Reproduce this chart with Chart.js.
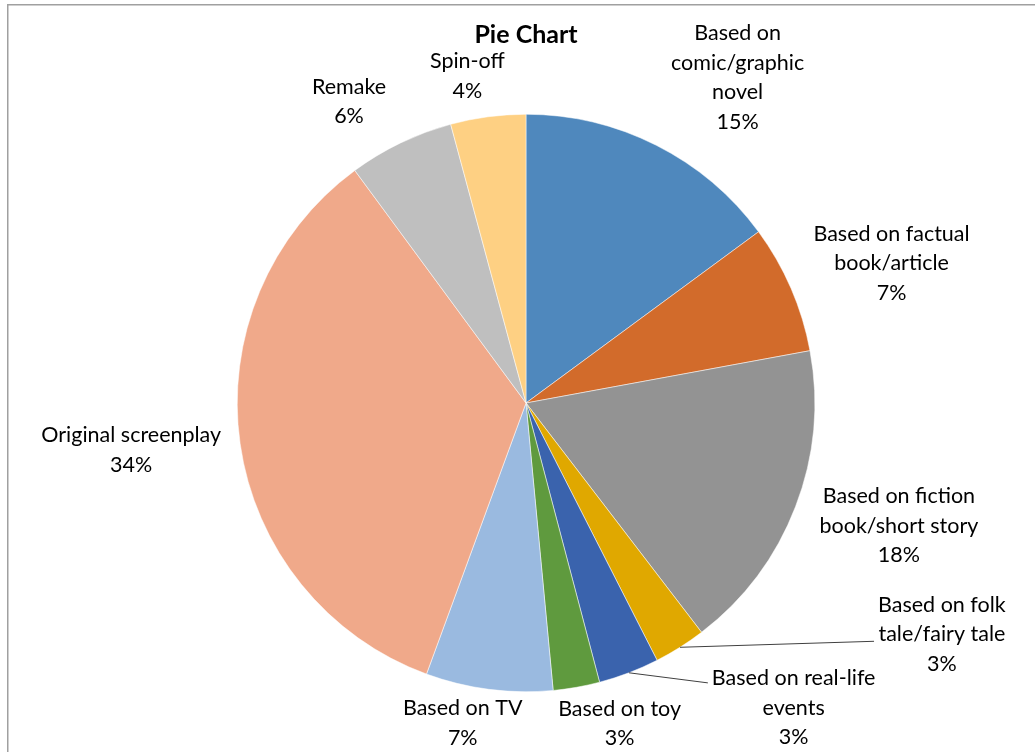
<!DOCTYPE html>
<html>
<head>
<meta charset="utf-8">
<title>Pie Chart</title>
<script src="https://cdn.jsdelivr.net/npm/chart.js"></script>
<style>
	html, body { margin: 0; padding: 0; background: #fff; }
	canvas { display: block; }
</style>
</head>
<body>
<canvas id="pieChart" width="1035" height="752"></canvas>
<script>
// slice labels, one entry per line as shown on the chart
const categories = [
	["Based on", "comic/graphic", "novel"],
	["Based on factual", "book/article"],
	["Based on fiction", "book/short story"],
	["Based on folk", "tale/fairy tale"],
	["Based on real-life", "events"],
	["Based on toy"],
	["Based on TV"],
	["Original screenplay"],
	["Remake"],
	["Spin-off"],
];

// share of films in each category
const shares = [14.9, 7.2, 17.5, 2.9, 3.4, 2.6, 7.1, 34.3, 5.9, 4.2];

const sliceColors = [
	"#4f88bd",
	"#d26b2b",
	"#939393",
	"#e0a800",
	"#3a63ad",
	"#5f9a3e",
	"#9abae0",
	"#f0a98a",
	"#bfbfbf",
	"#fed083",
];

// where each label sits: angle shift from slice middle (deg), distance in radii
const labelPlacement = [
	[6.2, 1.345],
	[2.5, 1.355],
	[-2.8, 1.36],
	[-28.7, 1.648],
	[-20.4, 1.405],
	[-6.2, 1.156],
	[3.8, 1.13],
	[1.3, 1.377],
	[-4.7, 1.21],
	[-2.6, 1.15],
];
// labels pulled away from their slice get a leader line (dy from label centre)
const leaderLines = { 3: 7, 4: -25 };

const LABEL_FONT = "21.5px Lato, 'Liberation Sans', sans-serif";
const TITLE_FONT = "bold 25px Lato, 'Liberation Sans', sans-serif";
const LINE_HEIGHT = 29.5;

const outsideLabels = {
	id: "outsideLabels",
	beforeDraw(chart) {
		const ctx = chart.ctx;
		ctx.save();
		ctx.strokeStyle = "#a0a0a0";
		ctx.lineWidth = 1.5;
		ctx.beginPath();
		ctx.moveTo(7.75, chart.height + 5);
		ctx.lineTo(7.75, 4.75);
		ctx.lineTo(chart.width + 5, 4.75);
		ctx.stroke();
		ctx.restore();
	},
	afterDatasetsDraw(chart) {
		const ctx = chart.ctx;
		const meta = chart.getDatasetMeta(0);
		const values = chart.data.datasets[0].data;
		const total = values.reduce((a, b) => a + b, 0);

		ctx.save();
		ctx.font = LABEL_FONT;
		ctx.fillStyle = "#000";
		ctx.textAlign = "center";
		ctx.textBaseline = "middle";

		meta.data.forEach((arc, i) => {
			const { x, y, startAngle, endAngle, outerRadius } = arc.getProps(
				["x", "y", "startAngle", "endAngle", "outerRadius"],
				true,
			);
			const mid = (startAngle + endAngle) / 2;
			const [shift, dist] = labelPlacement[i];
			const a = mid + (shift * Math.PI) / 180;
			const cx = x + Math.cos(a) * outerRadius * dist;
			const cy = y + Math.sin(a) * outerRadius * dist;

			const lines = categories[i].concat([
				`${Math.round((values[i] / total) * 100)}%`,
			]);
			const top = cy - ((lines.length - 1) * LINE_HEIGHT) / 2;
			lines.forEach((line, j) => {
				ctx.fillText(line, cx, top + j * LINE_HEIGHT);
			});

			if (leaderLines[i] !== undefined) {
				const widest = Math.max(...lines.map((l) => ctx.measureText(l).width));
				ctx.strokeStyle = "#404040";
				ctx.lineWidth = 1;
				ctx.beginPath();
				ctx.moveTo(x + Math.cos(mid) * outerRadius, y + Math.sin(mid) * outerRadius);
				ctx.lineTo(cx - widest / 2 - 4, cy + leaderLines[i]);
				ctx.stroke();
			}
		});

		// chart title, centred over the pie
		ctx.font = TITLE_FONT;
		ctx.fillText("Pie Chart", meta.data[0].x, 35);
		ctx.restore();
	},
};

new Chart(document.getElementById("pieChart").getContext("2d"), {
	type: "pie",
	data: {
		labels: categories,
		datasets: [
			{
				data: shares,
				backgroundColor: sliceColors,
				borderColor: "#ffffff",
				borderWidth: 0.5,
			},
		],
	},
	options: {
		responsive: false,
		animation: false,
		layout: {
			padding: { left: 237, right: 220, top: 114, bottom: 60 },
		},
		plugins: {
			legend: { display: false },
			tooltip: { enabled: false },
			title: { display: false },
		},
	},
	plugins: [outsideLabels],
});
</script>
</body>
</html>
